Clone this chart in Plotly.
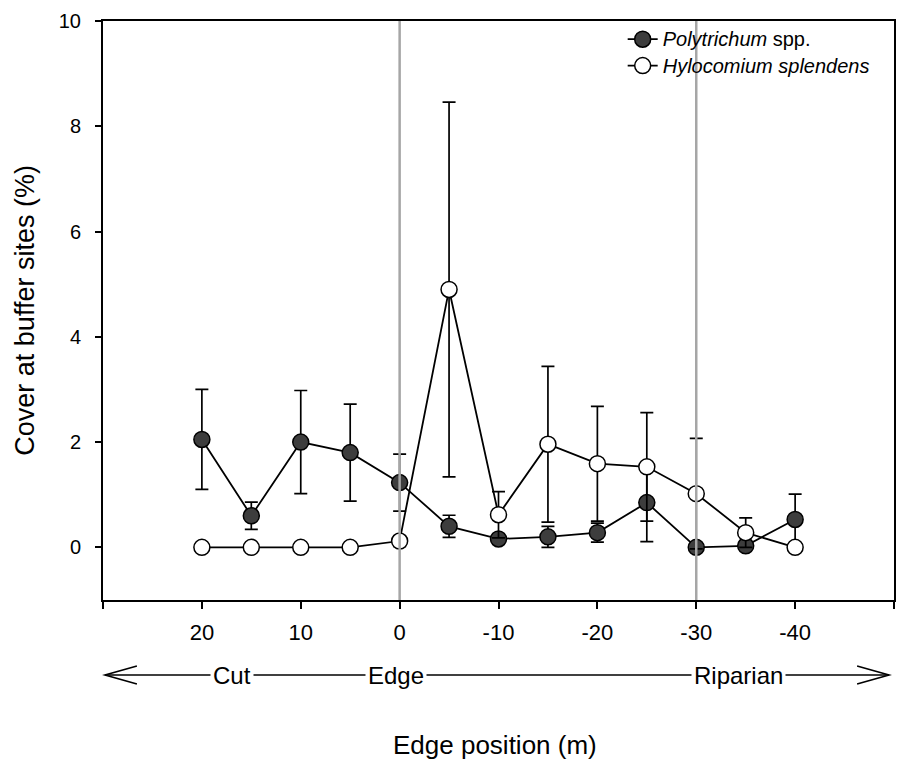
import plotly.graph_objects as go

# Edge position along the transect (m); positive = cut side, negative = riparian side
positions = [20, 15, 10, 5, 0, -5, -10, -15, -20, -25, -30, -35, -40]

# Mean cover (%) and standard error per species
polytrichum = [2.05, 0.60, 2.00, 1.80, 1.23, 0.40, 0.16, 0.20, 0.28, 0.85, 0.00, 0.03, 0.53]
polytrichum_se = [0.95, 0.26, 0.98, 0.92, 0.54, 0.21, 0.09, 0.20, 0.18, 0.74, 0.00, 0.00, 0.48]
hylocomium = [0.00, 0.00, 0.00, 0.00, 0.12, 4.90, 0.62, 1.96, 1.59, 1.53, 1.02, 0.28, 0.00]
hylocomium_se = [0.00, 0.00, 0.00, 0.00, 0.10, 3.56, 0.44, 1.48, 1.09, 1.03, 1.05, 0.28, 0.00]

series_names = ["<i>Polytrichum</i> spp.", "<i>Hylocomium splendens</i>"]

x_tick_vals = [30, 20, 10, 0, -10, -20, -30, -40, -50]
x_tick_text = ["", "20", "10", "0", "-10", "-20", "-30", "-40", ""]
y_tick_vals = [0, 2, 4, 6, 8, 10]

# Boundaries marked with vertical reference lines
boundaries = [0, -30]

# Zone labels along the gradient arrow
zone_labels = ["Cut", "Edge", "Riparian"]

FONT = "Arial, Liberation Sans, sans-serif"
LEGEND_TEXT = 20

fig = go.Figure()

common = dict(mode="lines+markers", line=dict(color="black", width=1.8))
err = dict(type="data", visible=True, color="black", thickness=1.7, width=6.5)

fig.add_trace(go.Scatter(
    x=positions, y=polytrichum,
    name=f'<span style="font-size:{LEGEND_TEXT}px">{series_names[0]}</span>',
    marker=dict(size=16, color="#3d3d3d", line=dict(color="black", width=1.5)),
    error_y=dict(array=polytrichum_se, **err), **common,
))

fig.add_trace(go.Scatter(
    x=positions, y=hylocomium,
    name=f'<span style="font-size:{LEGEND_TEXT}px">{series_names[1]}</span>',
    marker=dict(size=16, color="white", line=dict(color="black", width=1.5)),
    error_y=dict(array=hylocomium_se, **err), **common,
))

for b in boundaries:
    fig.add_shape(type="line", xref="x", yref="paper", x0=b, x1=b, y0=0, y1=1,
                  line=dict(color="#a6a6a6", width=2.5), layer="above")

# Gradient arrow below the axis: Cut -> Edge -> Riparian
left_px, right_px = 105, 891
plot_left, plot_top, plot_w, plot_h = 103, 21, 793, 579
arrow_y = (plot_top + plot_h - 675) / plot_h

def px(v):
    return (v - plot_left) / plot_w

fig.add_shape(type="line", xref="paper", yref="paper",
              x0=px(left_px), x1=px(right_px), y0=arrow_y, y1=arrow_y,
              line=dict(color="black", width=1.6))
dy = 9 / plot_h
for tip, back in [(left_px, left_px + 32), (right_px, right_px - 32)]:
    fig.add_shape(type="path", xref="paper", yref="paper",
                  path=f"M {px(back)},{arrow_y + dy} L {px(tip)},{arrow_y} L {px(back)},{arrow_y - dy}",
                  line=dict(color="black", width=1.6))

for label, cx in zip(zone_labels, [232, 397, 740]):
    fig.add_annotation(text=label, xref="paper", yref="paper", x=px(cx), y=arrow_y,
                       xanchor="center", yanchor="middle",
                       showarrow=False, bgcolor="white", borderpad=2,
                       font=dict(family=FONT, size=24, color="black"))

fig.add_annotation(text="Edge position (m)", xref="paper", yref="paper",
                   x=px(496), y=(plot_top + plot_h - 745) / plot_h,
                   xanchor="center", yanchor="middle", showarrow=False,
                   font=dict(family=FONT, size=26, color="black"))
fig.add_annotation(text="Cover at buffer sites (%)", xref="paper", yref="paper",
                   x=px(24), y=0.5, xanchor="center", yanchor="middle",
                   textangle=-90, showarrow=False,
                   font=dict(family=FONT, size=27, color="black"))

fig.update_xaxes(
    range=[30, -50], tickmode="array", tickvals=x_tick_vals, ticktext=x_tick_text,
    ticks="outside", ticklen=7, tickwidth=1.5, tickcolor="black",
    showline=True, linecolor="black", linewidth=2, mirror=True,
    showgrid=False, zeroline=False, ticklabelstandoff=5,
    tickfont=dict(family=FONT, size=22, color="black"),
)
fig.update_yaxes(
    range=[-1, 10], tickmode="array", tickvals=y_tick_vals,
    ticks="outside", ticklen=6, tickwidth=1.5, tickcolor="black",
    showline=True, linecolor="black", linewidth=2, mirror=True,
    showgrid=False, zeroline=False, ticklabelstandoff=10,
    tickfont=dict(family=FONT, size=20, color="black"),
)

fig.update_layout(
    width=898, height=764,
    margin=dict(l=plot_left, r=2, t=plot_top, b=164),
    paper_bgcolor="white", plot_bgcolor="white",
    showlegend=True,
    legend=dict(x=px(624), y=1, xanchor="left", yanchor="top",
                bgcolor="rgba(0,0,0,0)", borderwidth=0,
                font=dict(family=FONT, size=18, color="black"),
                tracegroupgap=0, itemwidth=30),
)

fig.write_html("out.html")
